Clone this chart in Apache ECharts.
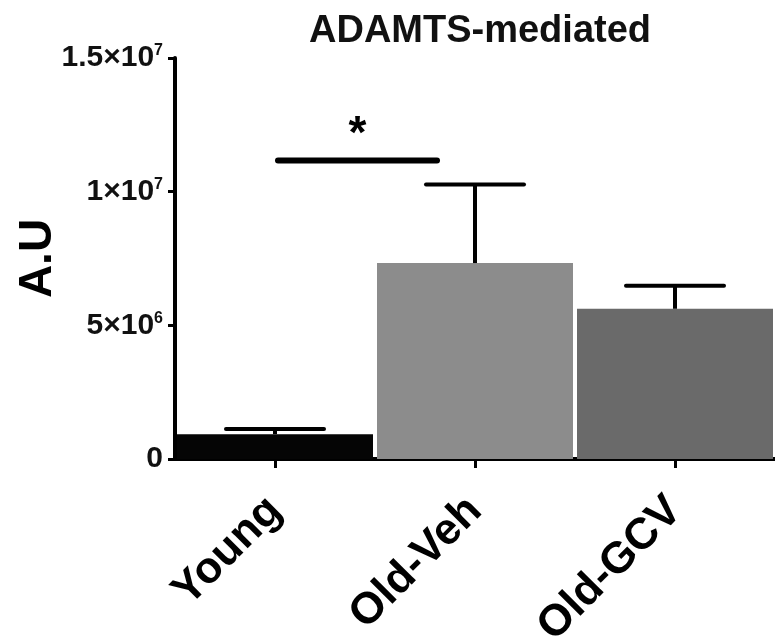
<!DOCTYPE html>
<html>
<head>
<meta charset="utf-8">
<script src="https://cdn.jsdelivr.net/npm/echarts@6/dist/echarts.min.js"></script>
<style>
html,body{margin:0;padding:0;background:#fff;}
#chart{width:775px;height:638px;}
</style>
</head>
<body>
<div id="chart"></div>
<script>
// ---- data ----
var categories = ['Young', 'Old-Veh', 'Old-GCV'];
var means = [0.93e6, 7.33e6, 5.62e6];
var sems = [0.19e6, 2.94e6, 0.86e6];
var barColors = ['#050505', '#8c8c8c', '#6a6a6a'];
var yTicks = [0, 5e6, 1e7, 1.5e7];
var yTickLabels = ['{b|0}', '{b|5×10}{s|6}', '{b|1×10}{s|7}', '{b|1.5×10}{s|7}'];
var sigFrom = 0, sigTo = 1, sigLevel = 11.17e6, starLevel = 12.1e6;

var chart = echarts.init(document.getElementById('chart'), null, {renderer: 'canvas'});

var errData = categories.map(function (c, i) { return [i, means[i], means[i] + sems[i]]; });

var option = {
  backgroundColor: '#ffffff',
  animation: false,
  title: {
    text: 'ADAMTS-mediated',
    left: 475,
    top: 8,
    textAlign: 'center',
    textStyle: {
      fontFamily: 'Liberation Sans, Arial, sans-serif',
      fontSize: 38,
      fontWeight: 'bold',
      color: '#111'
    }
  },
  grid: {left: 175, right: 0, top: 58, bottom: 179, containLabel: false, outerBoundsMode: 'none'},
  xAxis: {
    type: 'category',
    data: categories,
    axisLine: {lineStyle: {color: '#000', width: 4}},
    axisTick: {show: true, alignWithLabel: true, length: 9, lineStyle: {color: '#000', width: 3}},
    axisLabel: {
      rotate: 45,
      margin: 45,
      fontFamily: 'Liberation Sans, Arial, sans-serif',
      fontSize: 44,
      fontWeight: 'bold',
      color: '#000'
    }
  },
  yAxis: {
    type: 'value',
    min: 0,
    max: 1.5e7,
    interval: 5e6,
    name: 'A.U',
    nameLocation: 'middle',
    nameRotate: 90,
    nameGap: 114,
    nameMoveOverlap: false,
    nameTextStyle: {
      fontFamily: 'Liberation Sans, Arial, sans-serif',
      fontSize: 46,
      fontWeight: 'bold',
      color: '#000'
    },
    splitLine: {show: false},
    axisLine: {show: true, lineStyle: {color: '#000', width: 4}},
    axisTick: {show: true, length: 7, lineStyle: {color: '#000', width: 3}},
    axisLabel: {
      margin: 12,
      formatter: function (v) {
        var idx = yTicks.indexOf(v);
        return idx >= 0 ? yTickLabels[idx] : '';
      },
      rich: {
        b: {fontFamily: 'Liberation Sans, Arial, sans-serif', fontSize: 30, color: '#111', fontWeight: 'bold', verticalAlign: 'bottom'},
        s: {fontFamily: 'Liberation Sans, Arial, sans-serif', fontSize: 16, color: '#111', fontWeight: 'bold', verticalAlign: 'top', padding: [0, 0, 14, 0]}
      }
    }
  },
  series: [
    {
      type: 'bar',
      data: means.map(function (v, i) { return {value: v, itemStyle: {color: barColors[i]}}; }),
      barCategoryGap: '2%',
      z: 2
    },
    {
      type: 'custom',
      data: errData,
      z: 3,
      renderItem: function (params, api) {
        var i = api.value(0);
        var base = api.coord([i, api.value(1)]);
        var top = api.coord([i, api.value(2)]);
        var band = api.size([1, 0])[0];
        var hw = band * 0.245;
        var st = {stroke: '#000', lineWidth: 4};
        return {
          type: 'group',
          children: [
            {type: 'line', shape: {x1: top[0], y1: base[1], x2: top[0], y2: top[1]}, style: st},
            {type: 'line', shape: {x1: top[0] - hw, y1: top[1], x2: top[0] + hw, y2: top[1]}, style: {stroke: '#000', lineWidth: 4, lineCap: 'round'}}
          ]
        };
      }
    },
    {
      type: 'custom',
      data: [[sigFrom, sigTo, sigLevel, starLevel]],
      z: 4,
      renderItem: function (params, api) {
        var a = api.coord([api.value(0), api.value(2)]);
        var b = api.coord([api.value(1), api.value(2)]);
        var band = api.size([1, 0])[0];
        var x1 = a[0] + band * 0.015;
        var x2 = b[0] - band * 0.19;
        var s = api.coord([api.value(0), api.value(3)]);
        return {
          type: 'group',
          children: [
            {type: 'line', shape: {x1: x1, y1: a[1], x2: x2, y2: a[1]}, style: {stroke: '#000', lineWidth: 6, lineCap: 'round'}},
            {type: 'text', style: {text: '*', x: (x1 + x2) / 2, y: s[1], align: 'center', verticalAlign: 'middle',
              font: 'bold 46px "Liberation Sans", Arial, sans-serif', fill: '#000'}}
          ]
        };
      }
    }
  ]
};
chart.setOption(option);
</script>
</body>
</html>
